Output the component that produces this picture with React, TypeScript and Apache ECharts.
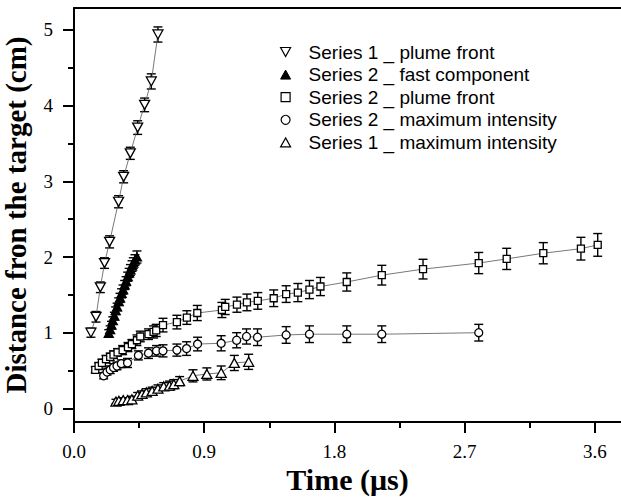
import React, { useEffect, useRef } from "react";
import * as echarts from "echarts";

// ---- data (time in µs, distance in cm) ----
const s1PlumeFront = [
  [0.117, 1.0], [0.152, 1.21], [0.182, 1.6], [0.211, 1.92], [0.246, 2.2], [0.308, 2.73],
  [0.343, 3.06], [0.389, 3.37], [0.44, 3.71], [0.488, 4.01], [0.534, 4.32], [0.58, 4.94],
];
const s1PlumeFrontErr = [0.06, 0.07, 0.07, 0.07, 0.08, 0.08, 0.08, 0.08, 0.09, 0.09, 0.1, 0.1];

const s2FastComponent = [
  [0.24, 0.99], [0.25, 1.04], [0.259, 1.1], [0.268, 1.16], [0.279, 1.22], [0.288, 1.29],
  [0.298, 1.34], [0.309, 1.41], [0.318, 1.46], [0.329, 1.52], [0.339, 1.57], [0.35, 1.63],
  [0.36, 1.68], [0.371, 1.74], [0.381, 1.79], [0.39, 1.83], [0.401, 1.88], [0.41, 1.92],
  [0.421, 1.96], [0.435, 2.0],
];
const s2FastComponentErr = [
  0.05, 0.05, 0.05, 0.05, 0.05, 0.05, 0.05, 0.05, 0.06, 0.06,
  0.06, 0.06, 0.06, 0.06, 0.06, 0.07, 0.07, 0.07, 0.07, 0.08,
];

const s2PlumeFront = [
  [0.147, 0.51], [0.17, 0.56], [0.193, 0.6], [0.221, 0.65], [0.25, 0.68], [0.273, 0.71],
  [0.301, 0.74], [0.336, 0.77], [0.373, 0.81], [0.4, 0.85], [0.435, 0.9], [0.458, 0.95],
  [0.515, 0.98], [0.55, 1.01], [0.568, 1.03], [0.615, 1.1], [0.711, 1.14], [0.78, 1.2],
  [0.852, 1.26], [1.022, 1.3], [1.045, 1.34], [1.126, 1.37], [1.195, 1.4], [1.27, 1.42],
  [1.38, 1.455], [1.466, 1.51], [1.547, 1.53], [1.627, 1.57], [1.703, 1.61], [1.885, 1.67],
  [2.127, 1.76], [2.412, 1.84], [2.797, 1.92], [2.99, 1.975], [3.243, 2.05], [3.503, 2.11],
  [3.619, 2.16],
];
const s2PlumeFrontErr = [
  0.04, 0.04, 0.05, 0.05, 0.05, 0.05, 0.05, 0.06, 0.06, 0.06, 0.07, 0.07, 0.07,
  0.08, 0.08, 0.09, 0.09, 0.09, 0.1, 0.1, 0.1, 0.1, 0.11, 0.11, 0.11, 0.11, 0.12,
  0.12, 0.12, 0.12, 0.13, 0.13, 0.14, 0.14, 0.14, 0.15, 0.15,
];

const s2MaxIntensity = [
  [0.205, 0.43], [0.228, 0.48], [0.25, 0.51], [0.273, 0.54], [0.297, 0.56], [0.327, 0.59],
  [0.37, 0.6], [0.445, 0.7], [0.515, 0.73], [0.57, 0.76], [0.615, 0.76], [0.711, 0.77],
  [0.778, 0.79], [0.854, 0.85], [1.017, 0.86], [1.124, 0.9], [1.192, 0.95], [1.268, 0.94],
  [1.466, 0.97], [1.627, 0.98], [1.885, 0.98], [2.127, 0.98], [2.797, 1.0],
];
const s2MaxIntensityErr = [
  0.04, 0.04, 0.05, 0.05, 0.05, 0.05, 0.06, 0.06, 0.07, 0.07, 0.08, 0.08,
  0.09, 0.09, 0.1, 0.1, 0.1, 0.11, 0.11, 0.11, 0.11, 0.11, 0.11,
];

const s1MaxIntensity = [
  [0.29, 0.09], [0.31, 0.1], [0.34, 0.11], [0.37, 0.11], [0.4, 0.12], [0.44, 0.17],
  [0.47, 0.19], [0.5, 0.21], [0.54, 0.23], [0.58, 0.26], [0.62, 0.29], [0.66, 0.3],
  [0.69, 0.32], [0.73, 0.36], [0.822, 0.43], [0.918, 0.455], [1.017, 0.47], [1.108, 0.6],
  [1.207, 0.615],
];
const s1MaxIntensityErr = [
  0.03, 0.03, 0.03, 0.03, 0.04, 0.04, 0.04, 0.05, 0.05, 0.05, 0.05, 0.06,
  0.06, 0.06, 0.08, 0.08, 0.09, 0.1, 0.1,
];

const xMajorTicks = [0, 0.9, 1.8, 2.7, 3.6];
const xMinorTicks = [0.45, 1.35, 2.25, 3.15];
const yMajorTicks = [0, 1, 2, 3, 4, 5];
const yMinorTicks = [0.5, 1.5, 2.5, 3.5, 4.5];

const NAMES = [
  "Series 1 _ plume front",
  "Series 2 _ fast component",
  "Series 2 _ plume front",
  "Series 2 _ maximum intensity",
  "Series 1 _ maximum intensity",
];

const DOWN_TRI = "path://M0,0L10,0L5,9Z";
const UP_TRI = "path://M5,0L10,9L0,9Z";
const SQUARE = "path://M0,0L10,0L10,10L0,10Z";

const SERIF = "'Liberation Serif', 'Times New Roman', serif";
const SANS = "'Liberation Sans', Arial, sans-serif";

function errorSeries(pts: number[][], errs: number[]) {
  return {
    type: "custom",
    xAxisIndex: 0,
    yAxisIndex: 0,
    z: 1,
    silent: true,
    encode: { x: 0, y: 1 },
    data: pts.map((p, i) => [p[0], p[1], errs[i]]),
    renderItem: (params: any, api: any) => {
      const x = api.value(0);
      const y = api.value(1);
      const e = api.value(2);
      const top = api.coord([x, y + e]);
      const bot = api.coord([x, y - e]);
      const hw = 4.5;
      const st = { stroke: "#000", lineWidth: 1.4 };
      return {
        type: "group",
        children: [
          { type: "line", shape: { x1: top[0], y1: top[1], x2: bot[0], y2: bot[1] }, style: st },
          { type: "line", shape: { x1: top[0] - hw, y1: top[1], x2: top[0] + hw, y2: top[1] }, style: st },
          { type: "line", shape: { x1: bot[0] - hw, y1: bot[1], x2: bot[0] + hw, y2: bot[1] }, style: st },
        ],
      };
    },
  };
}

function lineSeries(name: string, pts: number[][], symbol: string, size: any, filled: boolean) {
  return {
    type: "line",
    name,
    xAxisIndex: 0,
    yAxisIndex: 0,
    z: 3,
    data: pts,
    symbol,
    symbolSize: size,
    showAllSymbol: true,
    lineStyle: { color: "#555", width: 0.8 },
    itemStyle: { color: filled ? "#000" : "#fff", borderColor: "#000", borderWidth: 1.3 },
    emphasis: { disabled: true },
  };
}

function axisLineStyle() {
  return { color: "#000", width: 2 };
}

export default function App() {
  const ref = useRef<HTMLDivElement>(null);
  useEffect(() => {
    if (!ref.current) return;
    const chart = echarts.init(ref.current, undefined, { renderer: "svg" });
    const option: any = {
      animation: false,
      textStyle: { fontFamily: SERIF },
      grid: { left: 74, top: 8, right: 0, bottom: 75, containLabel: false, outerBoundsMode: "none" },
      legend: {
        orient: "vertical",
        left: 275,
        top: 37,
        itemWidth: 36,
        itemHeight: 9,
        itemGap: 2.6,
        selectedMode: false,
        textStyle: { fontFamily: SANS, fontSize: 19, color: "#000", lineHeight: 20 },
        data: [
          { name: NAMES[0], icon: DOWN_TRI, itemStyle: { color: "#fff", borderColor: "#000", borderWidth: 1.2 } },
          { name: NAMES[1], icon: UP_TRI, itemStyle: { color: "#000", borderColor: "#000", borderWidth: 1 } },
          { name: NAMES[2], icon: SQUARE, itemStyle: { color: "#fff", borderColor: "#000", borderWidth: 1.2 } },
          { name: NAMES[3], icon: "circle", itemStyle: { color: "#fff", borderColor: "#000", borderWidth: 1.2 } },
          { name: NAMES[4], icon: UP_TRI, itemStyle: { color: "#fff", borderColor: "#000", borderWidth: 1.2 } },
        ],
      },
      xAxis: [
        {
          type: "value",
          position: "bottom",
          z: 10,
          min: 0,
          max: 3.78,
          axisLine: { show: true, onZero: false, lineStyle: axisLineStyle() },
          axisTick: { show: true, customValues: xMajorTicks, length: 11, inside: false, lineStyle: axisLineStyle() },
          axisLabel: {
            customValues: xMajorTicks,
            formatter: (v: number) => v.toFixed(1),
            margin: 20,
            fontSize: 19,
            fontFamily: SERIF,
            color: "#000",
          },
          splitLine: { show: false },
          name: "Time (μs)",
          nameLocation: "middle",
          nameGap: 42,
          nameMoveOverlap: false,
          nameTextStyle: { fontFamily: SERIF, fontWeight: "bold", fontSize: 30, color: "#000" },
        },
        {
          type: "value",
          position: "bottom",
          z: 10,
          min: 0,
          max: 3.78,
          axisLine: { show: false, onZero: false },
          axisTick: { show: true, customValues: xMinorTicks, length: 6, inside: false, lineStyle: axisLineStyle() },
          axisLabel: { show: false },
          splitLine: { show: false },
        },
        {
          type: "value",
          position: "top",
          z: 10,
          min: 0,
          max: 3.78,
          axisLine: { show: true, onZero: false, lineStyle: axisLineStyle() },
          axisTick: { show: false },
          axisLabel: { show: false },
          splitLine: { show: false },
        },
      ],
      yAxis: [
        {
          type: "value",
          position: "left",
          z: 10,
          min: -0.18,
          max: 5.29,
          axisLine: { show: true, onZero: false, lineStyle: axisLineStyle() },
          axisTick: { show: true, customValues: yMajorTicks, length: 11, inside: false, lineStyle: axisLineStyle() },
          axisLabel: {
            customValues: yMajorTicks,
            formatter: (v: number) => String(v),
            margin: 21,
            fontSize: 19,
            fontFamily: SERIF,
            color: "#000",
          },
          splitLine: { show: false },
          name: "Distance fron the target (cm)",
          nameLocation: "middle",
          nameGap: 44,
          nameMoveOverlap: false,
          nameTextStyle: { fontFamily: SERIF, fontWeight: "bold", fontSize: 29, color: "#000" },
        },
        {
          type: "value",
          position: "left",
          z: 10,
          min: -0.18,
          max: 5.29,
          axisLine: { show: false, onZero: false },
          axisTick: { show: true, customValues: yMinorTicks, length: 6, inside: false, lineStyle: axisLineStyle() },
          axisLabel: { show: false },
          splitLine: { show: false },
        },
      ],
      series: [
        errorSeries(s1PlumeFront, s1PlumeFrontErr),
        errorSeries(s2FastComponent, s2FastComponentErr),
        errorSeries(s2PlumeFront, s2PlumeFrontErr),
        errorSeries(s2MaxIntensity, s2MaxIntensityErr),
        errorSeries(s1MaxIntensity, s1MaxIntensityErr),
        lineSeries(NAMES[0], s1PlumeFront, DOWN_TRI, [10, 9], false),
        lineSeries(NAMES[1], s2FastComponent, UP_TRI, [9, 8], true),
        lineSeries(NAMES[2], s2PlumeFront, SQUARE, 7, false),
        lineSeries(NAMES[3], s2MaxIntensity, "circle", 8, false),
        lineSeries(NAMES[4], s1MaxIntensity, UP_TRI, [10, 9], false),
      ],
    };
    chart.setOption(option);
    return () => chart.dispose();
  }, []);
  return (
    <div
      ref={ref}
      style={{ position: "absolute", left: 0, top: 0, width: 621, height: 497, background: "#fff" }}
    />
  );
}
